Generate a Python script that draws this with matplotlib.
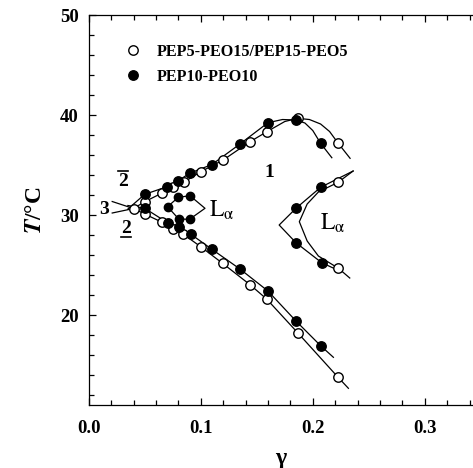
import matplotlib
matplotlib.use("Agg")
import matplotlib.pyplot as plt
from matplotlib.ticker import MultipleLocator

plt.rcParams['font.family'] = ['Liberation Serif', 'DejaVu Serif']
plt.rcParams['mathtext.fontset'] = 'stix'

# PEP5-PEO15 / PEP15-PEO5 (open symbols)
open_up_x = [0.040, 0.050, 0.065, 0.075, 0.085, 0.100, 0.120, 0.144, 0.159, 0.1865, 0.2223]
open_up_y = [30.65, 31.33, 32.17, 32.77, 33.28, 34.33, 35.50, 37.33, 38.33, 39.67, 37.23]
open_lo_x = [0.050, 0.065, 0.075, 0.0842, 0.100, 0.1195, 0.144, 0.1588, 0.1865, 0.2226]
open_lo_y = [30.10, 29.30, 28.57, 28.10, 26.83, 25.17, 23.03, 21.60, 18.23, 13.77]

# PEP10-PEO10 (filled symbols)
fill_up_x = [0.050, 0.070, 0.080, 0.090, 0.110, 0.135, 0.160, 0.185, 0.207]
fill_up_y = [32.07, 32.83, 33.43, 34.17, 35.05, 37.10, 39.23, 39.50, 37.17]
fill_lo_x = [0.050, 0.0708, 0.0806, 0.0909, 0.110, 0.135, 0.160, 0.185, 0.207]
fill_lo_y = [30.67, 29.20, 28.80, 28.10, 26.57, 24.60, 22.40, 19.40, 16.93]

# small lamellar loop (PEP10-PEO10)
loop_x = [0.0704, 0.080, 0.0904, 0.1038, 0.090, 0.0804, 0.0704]
loop_y = [30.83, 31.77, 31.93, 30.67, 29.57, 29.60, 30.83]
loop_pts_x = [0.0704, 0.080, 0.0904, 0.090, 0.0804]
loop_pts_y = [30.83, 31.77, 31.93, 29.57, 29.60]

# right lamellar boundaries
lam_fill_x = [0.224, 0.208, 0.185, 0.170, 0.185, 0.207, 0.236]
lam_fill_y = [24.40, 25.23, 27.23, 29.00, 30.67, 32.77, 34.40]
lam_fill_pts_x = [0.185, 0.208, 0.185, 0.207]
lam_fill_pts_y = [27.23, 25.23, 30.67, 32.77]
lam_open_x = [0.233, 0.2229, 0.205, 0.195, 0.188, 0.195, 0.205, 0.2226, 0.236]
lam_open_y = [23.70, 24.67, 25.90, 27.40, 29.33, 31.10, 32.30, 33.27, 34.40]
lam_open_pts_x = [0.2229, 0.2226]
lam_open_pts_y = [24.67, 33.27]

# curve ends and bends beyond the measured points
open_up_line_x = [0.021] + open_up_x[:9] + [0.175] + open_up_x[9:10] + [0.197, 0.207, 0.215] + open_up_x[10:] + [0.2333]
open_up_line_y = [30.20] + open_up_y[:9] + [39.35] + open_up_y[9:10] + [39.55, 39.10, 38.35] + open_up_y[10:] + [35.67]
open_lo_line_x = [0.021, 0.040] + open_lo_x + [0.2318]
open_lo_line_y = [31.35, 30.65] + open_lo_y + [12.67]
fill_up_line_x = [0.035] + fill_up_x[:7] + [0.173] + fill_up_x[7:8] + [0.193, 0.200] + fill_up_x[8:] + [0.217]
fill_up_line_y = [30.60] + fill_up_y[:7] + [39.55] + fill_up_y[7:8] + [39.20, 38.45] + fill_up_y[8:] + [35.73]
fill_lo_line_x = [0.035] + fill_lo_x + [0.2184]
fill_lo_line_y = [30.95] + fill_lo_y + [15.77]

fig = plt.figure(figsize=(4.73, 4.68), dpi=100)
ax = fig.add_axes([0.1875, 0.1346, 0.8125, 0.8333])

lw = 0.9
for lx, ly in [(open_up_line_x, open_up_line_y), (open_lo_line_x, open_lo_line_y),
               (fill_up_line_x, fill_up_line_y), (fill_lo_line_x, fill_lo_line_y),
               (loop_x, loop_y), (lam_fill_x, lam_fill_y), (lam_open_x, lam_open_y)]:
    ax.plot(lx, ly, color='black', lw=lw, zorder=2)

mk = dict(linestyle='none', marker='o', markersize=6.8, markeredgewidth=1.0,
          markeredgecolor='black', zorder=3)
h_open, = ax.plot(open_up_x, open_up_y, markerfacecolor='white', **mk,
                  label='PEP5-PEO15/PEP15-PEO5')
ax.plot(open_lo_x + lam_open_pts_x, open_lo_y + lam_open_pts_y,
        markerfacecolor='white', **mk)
h_fill, = ax.plot(fill_up_x, fill_up_y, markerfacecolor='black', **mk,
                  label='PEP10-PEO10')
ax.plot(fill_lo_x + lam_fill_pts_x, fill_lo_y + lam_fill_pts_y,
        markerfacecolor='black', **mk)
ax.plot(loop_pts_x, loop_pts_y, linestyle='none', marker='o', markersize=6.0,
        markerfacecolor='black', markeredgecolor='black', zorder=3)

leg = ax.legend(handles=[h_open, h_fill], loc='upper left',
                bbox_to_anchor=(0.073, 0.947), frameon=False, numpoints=1,
                handlelength=1.0, handletextpad=1.0, borderpad=0,
                labelspacing=0.55, prop={'weight': 'bold', 'size': 11.6})

# phase labels
bold = dict(fontsize=14, fontweight='bold', ha='center', va='center')
ax.text(0.0307, 33.4, '2', **bold)
ax.plot([0.0262, 0.0352], [34.45, 34.45], color='black', lw=1.2)
ax.text(0.0333, 28.7, '2', **bold)
ax.plot([0.0288, 0.0378], [27.85, 27.85], color='black', lw=1.2)
ax.text(0.0135, 30.55, '3', **bold)
ax.text(0.1613, 34.3, '1', **bold)
ax.text(0.119, 30.5, r'$\mathrm{L}_{\mathrm{\alpha}}$', fontsize=17, ha='center', va='center')
ax.text(0.2175, 29.2, r'$\mathrm{L}_{\mathrm{\alpha}}$', fontsize=17, ha='center', va='center')

ax.set_xlim(0, 0.343)
ax.set_ylim(11, 50)
ax.xaxis.set_major_locator(MultipleLocator(0.1))
ax.xaxis.set_minor_locator(MultipleLocator(0.02))
ax.yaxis.set_major_locator(MultipleLocator(10))
ax.yaxis.set_minor_locator(MultipleLocator(2))
ax.xaxis.set_major_formatter(plt.FormatStrFormatter('%.1f'))
ax.tick_params(axis='both', which='both', direction='in', top=True, right=False)
ax.tick_params(axis='both', which='major', length=5, width=0.9, labelsize=13.5)
ax.tick_params(axis='both', which='minor', length=3.5, width=0.9)
ax.tick_params(axis='x', which='major', pad=11)
ax.tick_params(axis='y', which='major', pad=7)
for lab in ax.get_xticklabels() + ax.get_yticklabels():
    lab.set_fontweight('bold')
ax.spines['right'].set_visible(False)
for s in ['left', 'bottom', 'top']:
    ax.spines[s].set_linewidth(0.9)

ax.set_xlabel('γ', fontsize=17, fontweight='bold', labelpad=8)
ax.set_ylabel(r'$\boldsymbol{T}$/°C', fontsize=17, fontweight='bold', labelpad=10)

fig.savefig('out.png', dpi=100)
